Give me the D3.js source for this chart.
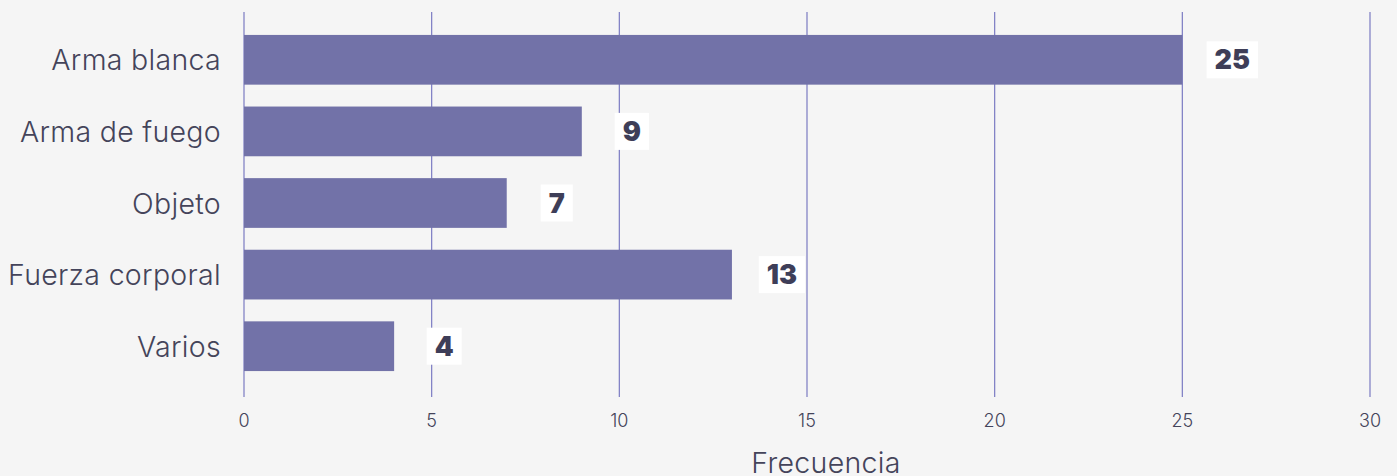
<!DOCTYPE html>
<html>
<head>
<meta charset="utf-8">
<script src="https://cdn.jsdelivr.net/npm/d3@7"></script>
<style>
  body { margin: 0; background: #f5f5f5; }
  svg { display: block; font-family: Inter, "Noto Sans", sans-serif; }
</style>
</head>
<body>
<div id="chart"></div>
<script>
const categories = ["Arma blanca", "Arma de fuego", "Objeto", "Fuerza corporal", "Varios"];
const counts = [25, 9, 7, 13, 4];
const xTicks = [0, 5, 10, 15, 20, 25, 30];

const W = 1397, H = 476;
const margin = { top: 12, right: 27, bottom: 79, left: 244 };

const svg = d3.select("#chart").append("svg")
    .attr("width", W)
    .attr("height", H);

const x = d3.scaleLinear().domain([0, 30]).range([margin.left, W - margin.right]);
const y = d3.scaleBand().domain(categories)
    .range([23, 23 + 72 * categories.length])
    .paddingInner(22 / 72).paddingOuter(12 / 72);

// gridlines
svg.append("g").selectAll("line")
    .data(xTicks)
    .join("line")
    .attr("x1", d => x(d)).attr("x2", d => x(d))
    .attr("y1", margin.top).attr("y2", H - margin.bottom)
    .attr("stroke", "#7b7bc2")
    .attr("stroke-width", 1.2);

// x tick labels
svg.append("g").selectAll("text")
    .data(xTicks)
    .join("text")
    .attr("x", d => x(d))
    .attr("y", 420)
    .attr("text-anchor", "middle")
    .attr("dominant-baseline", "central")
    .attr("fill", "#44445a")
    .style("font-size", "18px")
    .style("font-weight", 300)
    .text(d => d);

// bars
svg.append("g").selectAll("rect")
    .data(categories)
    .join("rect")
    .attr("x", x(0))
    .attr("y", d => y(d))
    .attr("width", (d, i) => x(counts[i]) - x(0))
    .attr("height", y.bandwidth())
    .attr("fill", "#7272a8");

// category labels
svg.append("g").selectAll("text")
    .data(categories)
    .join("text")
    .attr("x", 221)
    .attr("y", d => y(d) + y.bandwidth() / 2)
    .attr("text-anchor", "end")
    .attr("dominant-baseline", "central")
    .attr("fill", "#44445a")
    .style("font-size", "28.5px")
    .style("font-weight", 300)
    .style("letter-spacing", "0.3px")
    .text(d => d);

// value labels with white boxes
const lab = svg.append("g").selectAll("g")
    .data(categories)
    .join("g")
    .attr("transform", (d, i) => `translate(${x(counts[i]) + 50},${y(d) + y.bandwidth() / 2})`);

lab.append("text")
    .attr("text-anchor", "middle")
    .attr("dominant-baseline", "central")
    .attr("fill", "#3e3e58")
    .style("font-size", "27px")
    .style("font-weight", 900)
    .text((d, i) => counts[i]);

lab.each(function() {
    const g = d3.select(this);
    const bb = g.select("text").node().getBBox();
    g.insert("rect", "text")
        .attr("x", bb.x - 8)
        .attr("y", -18.5)
        .attr("width", bb.width + 16)
        .attr("height", 37)
        .attr("fill", "#ffffff");
});

// axis title
svg.append("text")
    .attr("x", 826)
    .attr("y", 473)
    .attr("text-anchor", "middle")
    .attr("fill", "#44445a")
    .style("font-size", "28.5px")
    .style("font-weight", 300)
    .style("letter-spacing", "0.3px")
    .text("Frecuencia");
</script>
</body>
</html>
